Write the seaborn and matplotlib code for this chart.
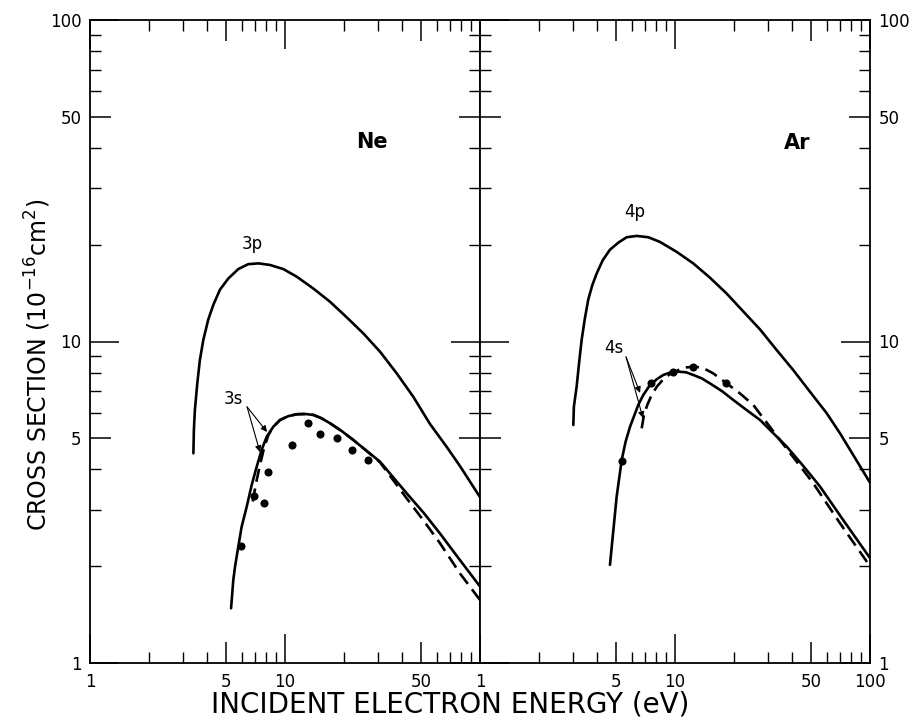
import numpy as np
import pandas as pd
import matplotlib
matplotlib.use("Agg")
import matplotlib.pyplot as plt
import seaborn as sns
from matplotlib.ticker import FixedLocator, FixedFormatter, NullFormatter

# ---------------- data ----------------
ne_3p_E = [3.39, 3.41, 3.45, 3.55, 3.66, 3.81, 4.04, 4.29, 4.64, 5.12, 5.76, 6.48, 7.30,
           8.38, 9.80, 11.5, 14.0, 17.0, 20.7, 25.2, 30.7, 37.4, 45.5, 55.4, 67.5, 78.9, 100]
ne_3p_sigma = [4.49, 5.31, 6.12, 7.41, 8.76, 10.1, 11.7, 13.0, 14.5, 15.7, 16.8, 17.4, 17.5,
               17.3, 16.8, 15.9, 14.6, 13.3, 11.9, 10.6, 9.30, 7.96, 6.73, 5.54, 4.70, 4.10, 3.28]

ne_3s_E = [5.29, 5.43, 5.54, 5.76, 5.99, 6.36, 6.75, 7.16, 7.59, 8.06, 8.71, 9.43, 10.4, 11.5,
           12.7, 14.0, 15.4, 17.0, 19.5, 22.4, 26.2, 30.7, 42.1, 51.2, 62.3, 78.9, 100]
ne_3s_sigma = [1.48, 1.81, 1.99, 2.30, 2.65, 3.06, 3.58, 4.08, 4.60, 5.06, 5.43, 5.70, 5.86, 5.94,
               5.95, 5.91, 5.77, 5.57, 5.27, 4.94, 4.57, 4.23, 3.37, 2.94, 2.53, 2.09, 1.73]

ne_3s_dash_E = [6.83, 7.10, 7.44, 7.80, 8.22, 8.71, 9.43, 10.4, 11.5, 12.7, 14.0, 15.4, 17.0,
                19.5, 22.4, 26.2, 30.7, 42.1, 51.2, 62.3, 78.9, 100]
ne_3s_dash_sigma = [3.18, 3.62, 4.13, 4.65, 5.12, 5.43, 5.70, 5.86, 5.94, 5.95, 5.91, 5.77, 5.57,
                    5.27, 4.94, 4.57, 4.21, 3.25, 2.78, 2.36, 1.90, 1.57]

ne_dots_E = [5.95, 6.93, 7.80, 8.18, 10.9, 13.1, 15.1, 18.5, 22.1, 26.7]
ne_dots_sigma = [2.31, 3.31, 3.15, 3.93, 4.76, 5.58, 5.16, 5.01, 4.60, 4.28]

ar_4p_E = [3.01, 3.03, 3.13, 3.22, 3.32, 3.45, 3.59, 3.77, 3.97, 4.26, 4.64, 5.12, 5.65, 6.36,
           7.30, 8.38, 10.2, 12.4, 15.1, 18.4, 22.4, 27.3, 33.2, 40.4, 49.2, 60.0, 70.2, 100]
ar_4p_sigma = [5.50, 6.27, 7.23, 8.55, 10.1, 11.8, 13.5, 15.0, 16.3, 17.9, 19.3, 20.3, 21.1, 21.3,
               21.1, 20.4, 19.0, 17.5, 15.8, 14.1, 12.4, 10.9, 9.41, 8.15, 6.98, 5.98, 5.18, 3.64]

ar_4s_E = [4.64, 4.83, 5.02, 5.33, 5.58, 5.88, 6.48, 6.88, 7.44, 8.06, 8.71, 9.53, 10.4, 11.4,
           12.4, 13.7, 15.1, 17.4, 19.9, 23.3, 27.3, 37.4, 45.5, 55.4, 73.0, 100]
ar_4s_sigma = [2.02, 2.59, 3.29, 4.28, 4.88, 5.43, 6.35, 6.82, 7.32, 7.63, 7.87, 8.02, 8.06, 8.02,
               7.87, 7.68, 7.41, 7.01, 6.58, 6.12, 5.70, 4.71, 4.10, 3.54, 2.78, 2.12]

ar_4s_dash_E = [6.75, 6.93, 7.21, 7.59, 8.06, 8.71, 9.43, 10.4, 11.5, 12.7, 14.0, 15.7, 18.4,
                21.5, 25.2, 34.5, 42.1, 51.2, 70.2, 100]
ar_4s_dash_sigma = [5.37, 5.91, 6.35, 6.82, 7.23, 7.63, 7.92, 8.15, 8.31, 8.35, 8.26, 7.96, 7.41,
                    6.90, 6.35, 4.94, 4.23, 3.62, 2.72, 2.00]

ar_dots_E = [5.35, 7.53, 9.77, 12.3, 18.3]
ar_dots_sigma = [4.25, 7.43, 8.04, 8.33, 7.43]

major_vals = [1, 5, 10, 50, 100]
minor_vals = [2, 3, 4, 6, 7, 8, 9, 20, 30, 40, 60, 70, 80, 90]
left_xlabels = ["1", "5", "10", "50", ""]
right_xlabels = ["1", "5", "10", "50", "100"]
y_labels = ["1", "5", "10", "50", "100"]

# ---------------- style ----------------
sns.set_theme(style="white")
plt.rcParams['font.family'] = ['DejaVu Sans']
plt.rcParams['text.color'] = 'black'
plt.rcParams['axes.labelcolor'] = 'black'

fig = plt.figure(figsize=(9.14, 7.26), dpi=100)
W, H = 914.0, 726.0
axL = fig.add_axes([90 / W, 63 / H, 390 / W, 643 / H])
axR = fig.add_axes([480 / W, 63 / H, 390 / W, 643 / H])

LW = 1.9


def curve(ax, E, s, dashed=False):
    df = pd.DataFrame({"E": E, "sigma": s})
    n0 = len(ax.lines)
    sns.lineplot(data=df, x="E", y="sigma", ax=ax, color="black", lw=LW,
                 estimator=None, sort=False)
    for ln in ax.lines[n0:]:
        ln.set_solid_joinstyle("round")
        ln.set_solid_capstyle("round")
        if dashed:
            ln.set_dashes((5, 2.6))


def dots(ax, E, s):
    df = pd.DataFrame({"E": E, "sigma": s})
    sns.scatterplot(data=df, x="E", y="sigma", ax=ax, color="black", s=34,
                    edgecolor="black", linewidth=0, zorder=5)


curve(axL, ne_3p_E, ne_3p_sigma)
curve(axL, ne_3s_E, ne_3s_sigma)
curve(axL, ne_3s_dash_E, ne_3s_dash_sigma, dashed=True)
dots(axL, ne_dots_E, ne_dots_sigma)

curve(axR, ar_4p_E, ar_4p_sigma)
curve(axR, ar_4s_E, ar_4s_sigma)
curve(axR, ar_4s_dash_E, ar_4s_dash_sigma, dashed=True)
dots(axR, ar_dots_E, ar_dots_sigma)


def style_axes(ax, xlabels, label_left):
    ax.set_xscale("log")
    ax.set_yscale("log")
    ax.set_xlim(1, 100)
    ax.set_ylim(1, 100)
    ax.set_xlabel("")
    ax.set_ylabel("")
    for axis, labels in ((ax.xaxis, xlabels), (ax.yaxis, y_labels)):
        axis.set_major_locator(FixedLocator(major_vals))
        axis.set_major_formatter(FixedFormatter(labels))
        axis.set_minor_locator(FixedLocator(minor_vals))
        axis.set_minor_formatter(NullFormatter())
    ax.tick_params(which="major", direction="in", length=21, width=1.1,
                   colors="black", labelsize=12,
                   bottom=True, top=True, left=True, right=True)
    ax.tick_params(which="minor", direction="in", length=8, width=1.0,
                   colors="black",
                   bottom=True, top=True, left=True, right=True)
    ax.tick_params(axis="x", which="major", pad=7)
    ax.tick_params(axis="y", which="major", pad=6,
                   labelleft=label_left, labelright=not label_left)
    for sp in ax.spines.values():
        sp.set_color("black")
        sp.set_linewidth(1.3)
    ax.set_facecolor("white")
    for axis in (ax.xaxis, ax.yaxis):
        for tk, v in zip(axis.get_major_ticks(len(major_vals)), major_vals):
            if v in (5, 50):
                tk.tick1line.set_markersize(15)
                tk.tick2line.set_markersize(15)


style_axes(axL, left_xlabels, True)
style_axes(axR, right_xlabels, False)

# ---------------- annotations ----------------
axL.text(27.9, 41.8, "Ne", fontsize=15, fontweight="bold", ha="center", va="center")
axR.text(42.2, 41.4, "Ar", fontsize=15, fontweight="bold", ha="center", va="center")
axL.text(6.77, 20.1, "3p", fontsize=12, ha="center", va="center")
axR.text(6.24, 25.3, "4p", fontsize=12, ha="center", va="center")
axL.text(5.41, 6.62, "3s", fontsize=12, ha="center", va="center")
axR.text(4.87, 9.55, "4s", fontsize=12, ha="center", va="center")

arrow_kw = dict(arrowstyle="-|>", color="black", lw=0.8, mutation_scale=9,
                shrinkA=0, shrinkB=0)
for tip in [(8.09, 5.23), (7.44, 4.53)]:
    axL.annotate("", xy=tip, xytext=(6.39, 6.26), arrowprops=arrow_kw)
for tip in [(6.62, 6.92), (6.85, 5.78)]:
    axR.annotate("", xy=tip, xytext=(5.61, 8.95), arrowprops=arrow_kw)

fig.text(450 / W, 1 - 705 / H, "INCIDENT ELECTRON ENERGY (eV)", fontsize=20,
         ha="center", va="center")
fig.text(38 / W, 1 - 365 / H, r"CROSS SECTION (10$^{-16}$cm$^{2}$)", fontsize=17,
         ha="center", va="center", rotation=90)

fig.savefig("out.png", dpi=100, facecolor="white")
